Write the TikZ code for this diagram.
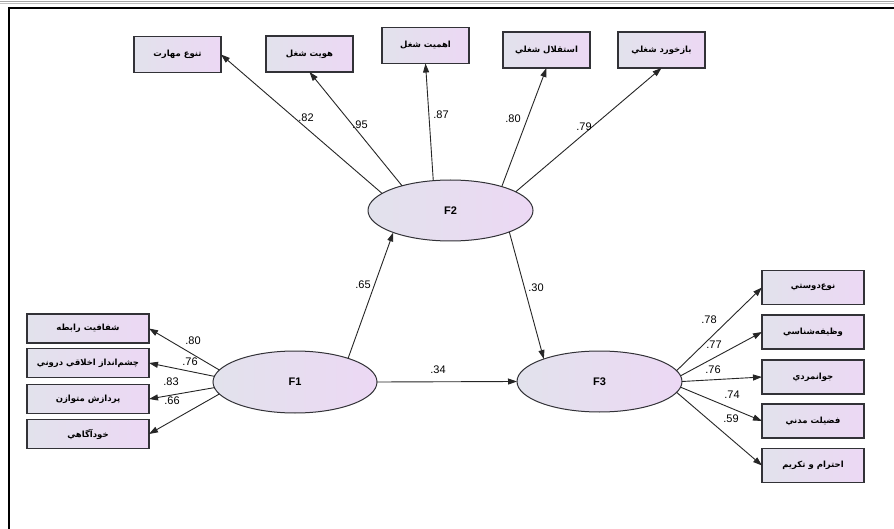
\documentclass[tikz,border=0pt]{standalone}
\usepackage{fontspec}
\setmainfont{Liberation Sans}
\newfontfamily\arabicfont[Script=Arabic]{DejaVu Sans}
\TeXXeTstate=1
\usetikzlibrary{arrows.meta,shapes.geometric}
\definecolor{boxL}{RGB}{226,226,236}
\definecolor{boxR}{RGB}{236,216,244}
\definecolor{edgeC}{RGB}{50,50,55}
\tikzset{
  ind/.style={draw=edgeC, line width=1.2pt, left color=boxL, right color=boxR,
    inner sep=0pt, outer sep=0pt, font=\arabicfont\bfseries\fontsize{8.5}{9}\selectfont},
  topbox/.style={ind, minimum width=87pt, minimum height=36pt},
  leftbox/.style={ind, minimum width=122pt, minimum height=29pt},
  rightbox/.style={ind, minimum width=102pt, minimum height=34pt},
  latent/.style={ellipse, draw=edgeC, line width=1pt, left color=boxL, right color=boxR,
    inner sep=0pt, outer sep=0pt, font=\bfseries\fontsize{11}{12}\selectfont},
  path/.style={draw=black!85, line width=0.9pt, -{Triangle[length=9pt,width=6pt]}},
  coef/.style={font=\fontsize{11}{12}\selectfont, inner sep=0pt}
}
\begin{document}
\begin{tikzpicture}[x=1pt,y=-1pt]
\useasboundingbox (0,0) rectangle (894,529);
\fill[white] (0,0) rectangle (894,529);
% frame
\draw[gray!70, line width=0.8pt] (0,1) -- (894,1);
\draw[gray!50, line width=0.6pt] (0,3) -- (894,3);
\draw[black, line width=2pt] (8,7.7) -- (894,7.7);
\draw[black, line width=2pt] (9,7) -- (9,529);
% top indicators
\node[topbox] (b1) at (177.5,54.5) {\beginR تنوع مهارت\endR};
\node[topbox] (b2) at (309.5,54) {\beginR هويت شغل\endR};
\node[topbox] (b3) at (425.5,45.5) {\beginR اهميت شغل\endR};
\node[topbox] (b4) at (546.5,50) {\beginR استقلال شغلي\endR};
\node[topbox] (b5) at (661.5,50) {\beginR بازخورد شغلي\endR};
% left indicators
\node[leftbox] (l1) at (88,328.5) {\beginR شفافيت رابطه\endR};
\node[leftbox] (l2) at (88,363) {\beginR چشم‌انداز اخلاقي دروني\endR};
\node[leftbox] (l3) at (88,399) {\beginR پردازش متوازن\endR};
\node[leftbox] (l4) at (88,434) {\beginR خودآگاهي\endR};
% right indicators
\node[rightbox] (r1) at (813,287.5) {\beginR نوع‌دوستي\endR};
\node[rightbox] (r2) at (813,332) {\beginR وظيفه‌شناسي\endR};
\node[rightbox] (r3) at (813,377) {\beginR جوانمردي\endR};
\node[rightbox] (r4) at (813,421) {\beginR فضيلت مدني\endR};
\node[rightbox] (r5) at (813,465.5) {\beginR احترام و تكريم\endR};
% latent variables
\node[latent, minimum width=165pt, minimum height=61pt] (F2) at (450.5,210.5) {F2};
\node[latent, minimum width=164pt, minimum height=62pt] (F1) at (295,382) {F1};
\node[latent, minimum width=165pt, minimum height=61pt] (F3) at (599.5,381.5) {F3};
% F2 loadings
\draw[path] (F2.166) -- (b1.east);
\draw[path] (F2.153) -- (b2.south);
\draw[path] (F2.120) -- (b3.south);
\draw[path] (F2.25) -- (b4.south);
\draw[path] (F2.16) -- (b5.south);
\node[coef] (c1) at (306,118) {.82};
\node[coef] (c2) at (360,125) {.95};
\node[coef] (c3) at (441,115) {.87};
\node[coef] (c4) at (513,119) {.80};
\node[coef] (c5) at (584,127) {.79};
% structural paths
\draw[path] (F1.24) -- (F2.201);
\draw[path] (F2.-20) -- (F3.158);
\draw[path] (F1.east) -- (F3.west);
\node[coef] (p1) at (363,285) {.65};
\node[coef] (p2) at (536,288) {.30};
\node[coef] (p3) at (438,370) {.34};
% F1 loadings
\draw[path] (F1.171) -- (l1.east);
\draw[path] (F1.176) -- (l2.east);
\draw[path] (F1.184) -- (l3.east);
\draw[path] (F1.189) -- (l4.east);
\node[coef] (d1) at (193,341) {.80};
\node[coef] (d2) at (190,362) {.76};
\node[coef] (d3) at (171,382) {.83};
\node[coef] (d4) at (172,401) {.66};
% F3 loadings
\draw[path] (F3.8) -- (r1.west);
\draw[path] (F3.4) -- (r2.west);
\draw[path] (F3.0) -- (r3.west);
\draw[path] (F3.-4) -- (r4.west);
\draw[path] (F3.-8) -- (r5.west);
\node[coef] (e1) at (709,320) {.78};
\node[coef] (e2) at (714,345) {.77};
\node[coef] (e3) at (713,370) {.76};
\node[coef] (e4) at (732,395) {.74};
\node[coef] (e5) at (731,419) {.59};
\end{tikzpicture}
\end{document}
